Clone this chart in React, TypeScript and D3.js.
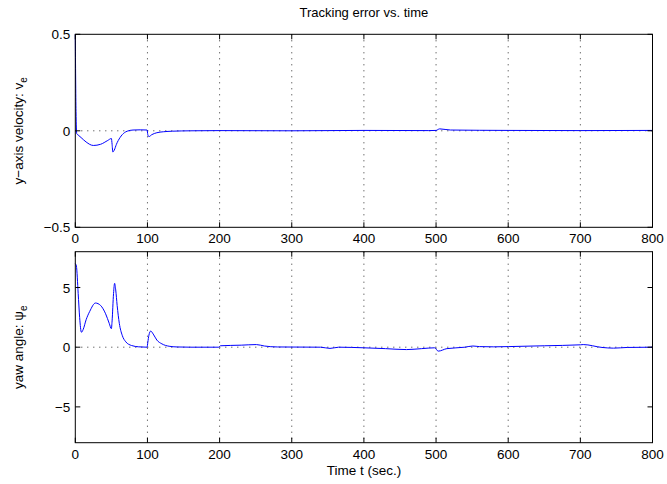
import React from "react";
import * as d3 from "d3";

const title = "Tracking error vs. time";
const xTicks = [0, 100, 200, 300, 400, 500, 600, 700, 800];
const vTicks = [-0.5, 0, 0.5];
const vTickLabels = ["\u22120.5", "0", "0.5"];
const pTicks = [-5, 0, 5];
const pTickLabels = ["\u22125", "0", "5"];

const vT = [0, 1, 2, 4, 8, 15, 25, 35, 45, 50, 51, 52, 54, 57, 62, 68, 72, 80, 90, 99.5, 100.5, 102, 106, 113, 122, 135, 160, 200, 300, 400, 490, 500, 505, 520, 600, 700, 800];
const vE = [0.5, 0.1, -0.015, -0.022, -0.035, -0.058, -0.076, -0.07, -0.05, -0.04, -0.07, -0.11, -0.1, -0.07, -0.035, -0.01, -0.002, 0.004, 0.005, 0.004, -0.02, -0.03, -0.02, -0.01, -0.005, -0.002, 0, 0.001, 0, 0.002, 0.001, 0.002, 0.01, 0.004, 0.002, 0.001, 0.002];

const pT = [0, 1.5, 4, 6, 8.5, 11, 15, 20, 28, 35, 42, 47, 50, 51, 53, 54.5, 56, 58, 61, 65, 70, 78, 88, 99.5, 100.5, 102, 104.5, 108, 113, 120, 130, 141, 160, 199, 201, 230, 251, 262, 280, 340, 353, 365, 400, 430, 459, 480, 498, 503, 515, 540, 551, 560, 580, 600, 650, 700, 704, 730, 746, 765, 800];
const pE = [7.0, 6.8, 4.5, 2.5, 1.25, 1.5, 2.3, 3.0, 3.7, 3.5, 2.8, 2.0, 1.55, 2.2, 4.5, 5.35, 4.8, 3.5, 2.0, 1.0, 0.45, 0.14, 0.03, 0.0, 0.4, 1.0, 1.35, 1.1, 0.6, 0.28, 0.08, 0.02, 0, 0, 0.12, 0.17, 0.22, 0.1, 0.02, 0, -0.1, 0, -0.05, -0.12, -0.2, -0.12, -0.05, -0.33, -0.12, 0.0, 0.1, 0.05, 0.03, 0.05, 0.12, 0.2, 0.22, -0.02, -0.08, -0.02, 0];

const FONT = "'Liberation Sans', Arial, Helvetica, sans-serif";
const L = 75.3, R = 652.5;

function Panel({ top, bottom, domain, ticks, tickLabels, t, v, ylabel }: any) {
  const x = d3.scaleLinear().domain([0, 800]).range([L, R]);
  const y = d3.scaleLinear().domain(domain).range([bottom, top]);
  const line = d3.line<number>().x((_, i) => x(t[i])).y((d) => y(d)).curve(d3.curveMonotoneX);
  const tl = 5;
  return (
    <g>
      {xTicks.slice(1, -1).map((tk) => (
        <line key={"gx" + tk} x1={x(tk)} x2={x(tk)} y1={top} y2={bottom} stroke="#333" strokeWidth={1} strokeDasharray="1,5" />
      ))}
      {ticks.slice(1, -1).map((tk: number) => (
        <line key={"gy" + tk} x1={L} x2={R} y1={y(tk)} y2={y(tk)} stroke="#333" strokeWidth={1} strokeDasharray="1,5" />
      ))}
      <path d={line(v) || ""} fill="none" stroke="#0000ff" strokeWidth={1} />
      <rect x={L} y={top} width={R - L} height={bottom - top} fill="none" stroke="#000" strokeWidth={1} />
      {xTicks.map((tk) => (
        <g key={"tx" + tk}>
          <line x1={x(tk)} x2={x(tk)} y1={bottom} y2={bottom - tl} stroke="#000" />
          <line x1={x(tk)} x2={x(tk)} y1={top} y2={top + tl} stroke="#000" />
          <text x={x(tk)} y={bottom + 16} textAnchor="middle" fontFamily={FONT} fontSize={13.5} fill="#000">{tk}</text>
        </g>
      ))}
      {ticks.map((tk: number, i: number) => (
        <g key={"ty" + tk}>
          <line x1={L} x2={L + tl} y1={y(tk)} y2={y(tk)} stroke="#000" />
          <line x1={R} x2={R - tl} y1={y(tk)} y2={y(tk)} stroke="#000" />
          <text x={L - 5} y={y(tk) + 5} textAnchor="end" fontFamily={FONT} fontSize={13.5} fill="#000">{tickLabels[i]}</text>
        </g>
      ))}
      <text transform={`translate(23,${(top + bottom) / 2}) rotate(-90)`} textAnchor="middle" fontFamily={FONT} fontSize={13.5} fill="#000">
        {ylabel}
      </text>
    </g>
  );
}

export default function App() {
  return (
    <svg width={667} height={484} style={{ position: "absolute", left: 0, top: 0, background: "#fff" }}>
      <rect width={667} height={484} fill="#fff" />
      <text x={363.9} y={17} textAnchor="middle" fontFamily={FONT} fontSize={13} fill="#000">{title}</text>
      <Panel top={34.3} bottom={227.3} domain={[-0.5, 0.5]} ticks={vTicks} tickLabels={vTickLabels} t={vT} v={vE}
        ylabel={<>y{"\u2212"}axis velocity: v<tspan fontSize={10} dy={4}>e</tspan></>} />
      <Panel top={251.7} bottom={442.7} domain={[-8, 8]} ticks={pTicks} tickLabels={pTickLabels} t={pT} v={pE}
        ylabel={<>yaw angle: {"\u03c8"}<tspan fontSize={10} dy={4}>e</tspan></>} />
      <text x={363.9} y={475} textAnchor="middle" fontFamily={FONT} fontSize={13.5} fill="#000">Time t (sec.)</text>
    </svg>
  );
}
